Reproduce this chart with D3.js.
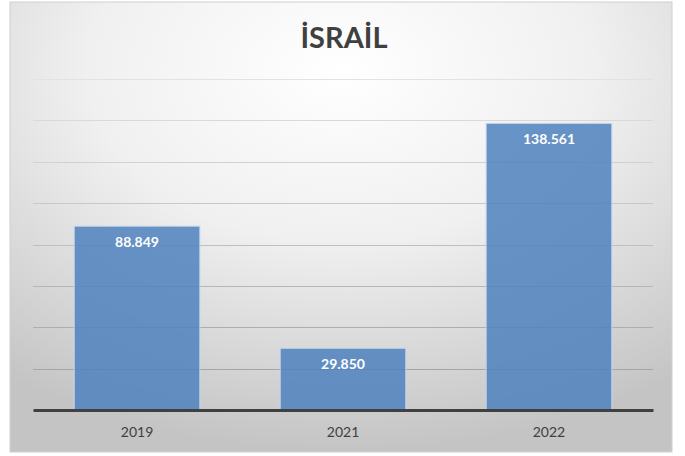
<!DOCTYPE html>
<html>
<head>
<meta charset="utf-8">
<script src="https://cdn.jsdelivr.net/npm/d3@7"></script>
<style>
  body { margin: 0; background: #fff; }
  svg { display: block; }
</style>
</head>
<body>
<svg width="685" height="456"></svg>
<script>
var title = "İSRAİL";
var years = ["2019", "2021", "2022"];
var values = [88849, 29850, 138561];
var yMax = 160000;
var yStep = 20000;

var svg = d3.select("svg");
var margin = { left: 33, right: 32, top: 79, bottom: 46 };
var width = 685, height = 456;

var defs = svg.append("defs");
var grad = defs.append("radialGradient")
    .attr("id", "bg")
    .attr("cx", "50%").attr("cy", "15%")
    .attr("r", "85%");
grad.append("stop").attr("offset", "0%").attr("stop-color", "#ffffff");
grad.append("stop").attr("offset", "45%").attr("stop-color", "#f0f0f0");
grad.append("stop").attr("offset", "100%").attr("stop-color", "#c4c4c4");

svg.append("rect")
    .attr("x", 10).attr("y", 2)
    .attr("width", 662).attr("height", 450)
    .attr("fill", "url(#bg)")
    .attr("stroke", "#d0d0d0");

var x = d3.scaleBand()
    .domain(years)
    .range([margin.left, width - margin.right])
    .paddingInner(0.39)
    .paddingOuter(0.2);

var y = d3.scaleLinear()
    .domain([0, yMax])
    .range([height - margin.bottom, margin.top]);

var gridShade = d3.scaleLinear()
    .domain([0, yMax])
    .range(["#9c9c9c", "#e2e2e2"]);

svg.append("g")
    .selectAll("line")
    .data(d3.range(yStep, yMax + 1, yStep))
    .enter().append("line")
    .attr("x1", margin.left)
    .attr("x2", width - margin.right)
    .attr("y1", d => Math.round(y(d)) + 0.5)
    .attr("y2", d => Math.round(y(d)) + 0.5)
    .attr("stroke", d => gridShade(d))
    .attr("stroke-width", 1);

svg.append("g")
    .selectAll("rect")
    .data(values)
    .enter().append("rect")
    .attr("x", (d, i) => x(years[i]))
    .attr("y", d => y(d))
    .attr("width", x.bandwidth())
    .attr("height", d => y(0) - y(d))
    .attr("fill", "#4f81bd")
    .attr("fill-opacity", 0.85)
    .attr("stroke", "#c6d6ea")
    .attr("stroke-width", 1);

svg.append("g")
    .selectAll("text")
    .data(values)
    .enter().append("text")
    .attr("x", (d, i) => x(years[i]) + x.bandwidth() / 2)
    .attr("y", d => y(d) + 21)
    .attr("text-anchor", "middle")
    .attr("font-family", "Lato, 'Open Sans', sans-serif")
    .attr("font-weight", "bold")
    .attr("font-size", 14)
    .attr("fill", "#ffffff")
    .text(d => d3.format(",")(d).replace(/,/g, "."));

var xAxis = svg.append("g")
    .attr("transform", "translate(0," + y(0) + ")")
    .call(d3.axisBottom(x).tickSize(0).tickPadding(17));
xAxis.select(".domain")
    .attr("stroke", "#404040")
    .attr("stroke-width", 3);
xAxis.selectAll("text")
    .attr("font-family", "Lato, 'Open Sans', sans-serif")
    .attr("font-size", 14)
    .attr("fill", "#404040");

svg.append("text")
    .attr("x", 344)
    .attr("y", 48)
    .attr("text-anchor", "middle")
    .attr("font-family", "Lato, 'Open Sans', sans-serif")
    .attr("font-weight", "bold")
    .attr("font-size", 29)
    .attr("fill", "#404040")
    .text(title);
</script>
</body>
</html>
